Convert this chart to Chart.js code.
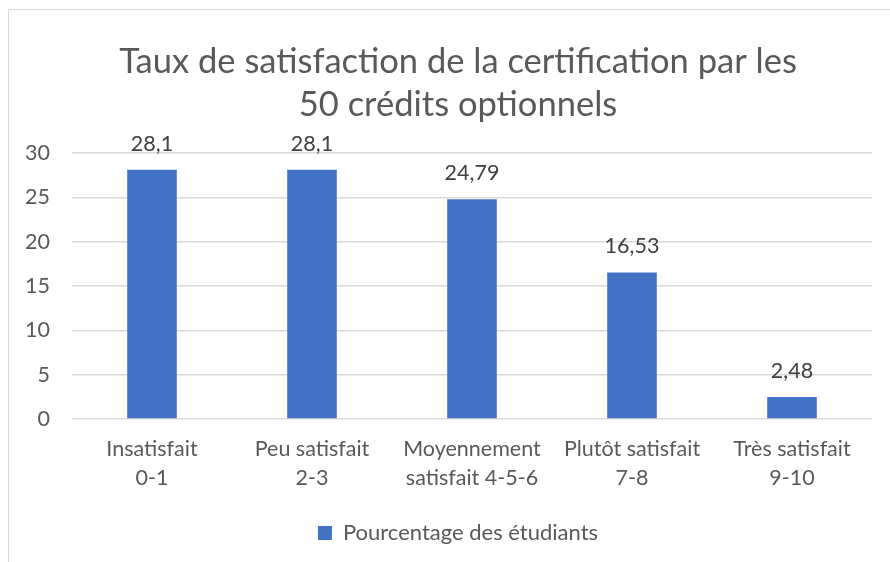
<!DOCTYPE html>
<html>
<head>
<meta charset="utf-8">
<script src="https://cdn.jsdelivr.net/npm/chart.js@4.4.1/dist/chart.umd.min.js"></script>
<style>
  html, body { margin: 0; padding: 0; background: #fff; }
  #wrap { position: relative; width: 890px; height: 562px; overflow: hidden; }
  #frame { position: absolute; left: 8px; top: 9px; width: 900px; height: 600px;
           border-top: 1px solid #d9d9d9; border-left: 1px solid #d9d9d9; }
  canvas { position: absolute; left: 0; top: 0; }
</style>
</head>
<body>
<div id="wrap">
  <div id="frame"></div>
  <canvas id="barChart" width="890" height="562"></canvas>
</div>
<script>
var categories = [
  ['Insatisfait', '0-1'],
  ['Peu satisfait', '2-3'],
  ['Moyennement', 'satisfait 4-5-6'],
  ['Plutôt satisfait', '7-8'],
  ['Très satisfait', '9-10']
]
var pourcentages = [28.1, 28.1, 24.79, 16.53, 2.48]
var yTicks = [0, 5, 10, 15, 20, 25, 30]
var seriesName = 'Pourcentage des étudiants'
var titleLines = ['Taux de satisfaction de la certification par les', '50 crédits optionnels']

var textColor = '#595959'
var fontFamily = 'Lato, Carlito, Calibri, sans-serif'

// labels above the bars, with a decimal comma
var valueLabels = {
  id: 'valueLabels',
  afterDatasetsDraw: function (chart) {
    var ctx = chart.ctx
    var meta = chart.getDatasetMeta(0)
    ctx.save()
    ctx.fillStyle = '#404040'
    ctx.font = '21.5px ' + fontFamily
    ctx.textAlign = 'center'
    ctx.textBaseline = 'middle'
    meta.data.forEach(function (bar, i) {
      var txt = String(chart.data.datasets[0].data[i]).replace('.', ',')
      ctx.fillText(txt, bar.x, bar.y - 26)
    })
    ctx.restore()
  }
}

// title and legend are centred a bit right of the canvas centre in the original
var shiftBlocks = {
  id: 'shiftBlocks',
  afterLayout: function (chart) {
    if (chart.titleBlock) chart.titleBlock.left += 44
    if (chart.legend) chart.legend.left += 44
  }
}

var barChartCanvas = document.getElementById('barChart').getContext('2d')
new Chart(barChartCanvas, {
  type: 'bar',
  data: {
    labels: categories,
    datasets: [
      {
        label: seriesName,
        data: pourcentages,
        backgroundColor: '#4472C4',
        borderWidth: 0,
        barPercentage: 0.31,
        categoryPercentage: 1
      }
    ]
  },
  options: {
    responsive: false,
    animation: false,
    layout: { padding: { left: 0, right: 18, top: 0, bottom: 8 } },
    plugins: {
      title: {
        display: true,
        text: titleLines,
        color: textColor,
        font: { family: fontFamily, size: 34.5, weight: 'normal', lineHeight: 1.246 },
        padding: { top: 40.5, bottom: 26.5 }
      },
      legend: {
        position: 'bottom',
        labels: {
          color: textColor,
          font: { family: fontFamily, size: 22 },
          boxWidth: 14,
          boxHeight: 14,
          padding: 10
        }
      },
      tooltip: { enabled: false }
    },
    scales: {
      x: {
        grid: { display: false, drawTicks: false },
        border: { display: false },
        ticks: {
          color: textColor,
          font: { family: fontFamily, size: 21.5, lineHeight: 1.35 },
          padding: 15.5,
          maxRotation: 0,
          autoSkip: false
        },
        afterFit: function (scale) { scale.height = 93 }
      },
      y: {
        min: 0,
        max: 30,
        afterBuildTicks: function (scale) {
          scale.ticks = yTicks.map(function (v) { return { value: v } })
        },
        grid: { color: '#d9d9d9', lineWidth: 1.5, drawTicks: false },
        border: { display: false },
        ticks: {
          color: textColor,
          font: { family: fontFamily, size: 21.5 },
          padding: 22
        },
        afterFit: function (scale) { scale.width = 72 }
      }
    }
  },
  plugins: [valueLabels, shiftBlocks]
})
</script>
</body>
</html>
